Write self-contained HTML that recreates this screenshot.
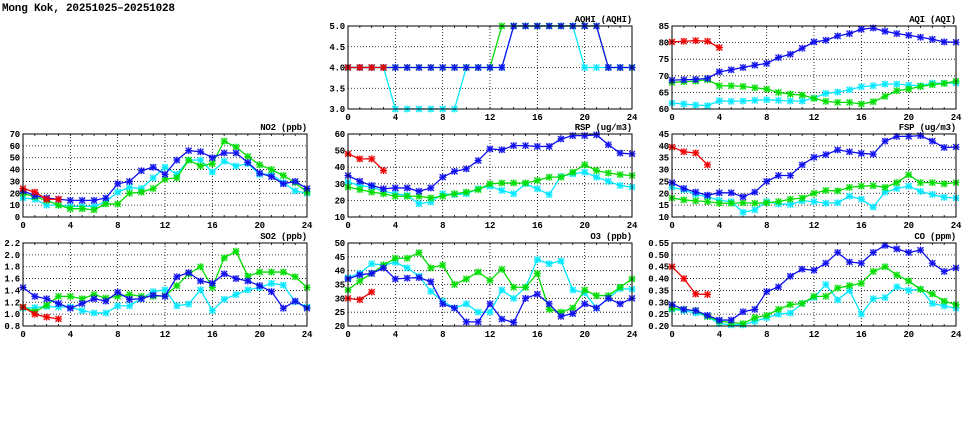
<!DOCTYPE html>
<html><head><meta charset="utf-8"><style>
body{margin:0;background:#fff;width:975px;height:447px;overflow:hidden}
svg{display:block}
text{font-family:"Liberation Mono","DejaVu Sans Mono",monospace;font-weight:bold;font-size:9px;fill:#000;letter-spacing:-0.2px}
</style></head><body>
<svg id="chart" width="975" height="447" viewBox="0 0 975 447">
<text x="2" y="11" style="font-size:11px">Mong Kok, 20251025–20251028</text>
</svg>
<script>
const hours = [0,1,2,3,4,5,6,7,8,9,10,11,12,13,14,15,16,17,18,19,20,21,22,23,24];
const xTicks = [0,4,8,12,16,20,24];

const aqhiRed=[4,4,4,4];
const aqhiCyan=[4,4,4,4,3,3,3,3,3,3,4,4,4,4,5,5,5,5,5,5,4,4,4,4,4];
const aqhiGreen=[4,4,4,4,4,4,4,4,4,4,4,4,4,5,5,5,5,5,5,5,5,5,4,4,4];
const aqhiBlue=[4,4,4,4,4,4,4,4,4,4,4,4,4,4,5,5,5,5,5,5,5,5,4,4,4];
const aqhiTicks=[3.0,3.5,4.0,4.5,5.0];

const aqiRed=[80.2,80.4,80.6,80.4,78.5];
const aqiBlue=[68.7,68.8,68.9,69.2,71.2,71.8,72.5,73.2,73.7,75.5,76.5,78.3,80.2,80.7,82,82.7,84,84.4,83.4,82.7,82.2,81.6,81,80.2,80.1];
const aqiGreen=[68,68.2,68.4,68.8,67,67,66.8,66.4,66,65,64.5,64.2,63.2,62.3,62,62,61.5,62.2,63.8,65.5,66,66.8,67.3,67.7,68.4];
const aqiCyan=[61.8,61.5,61.2,61,62.5,62.3,62.4,62.6,62.8,62.6,62.4,62.4,63.3,64.7,65.1,65.8,66.7,67,67.5,67.5,67.2,67,67.8,67.8,67.8];
const aqiTicks=[60,65,70,75,80,85];

const no2Red=[24,21,15,15];
const no2Blue=[22,18,16,15,14,14,14,16,28,30,39,42,36,48,56,55,50,54,54,46,37,34,28,30,24];
const no2Green=[20,17,14,10,7,7,6,11,11,20,21,24,32,33,48,43,45,64,59,51,44,40,35,29,21];
const no2Cyan=[16,15,10,10,9,9,9,13,21,25,24,33,42,36,48,48,38,47,43,45,36,36,29,22,20];
const no2Ticks=[0,10,20,30,40,50,60,70];

const rspRed=[48,45,45,38];
const rspBlue=[35,31.5,29,27,27.5,27.5,25.5,27.5,34,37.5,39,44,51,50.5,53,53,52.5,52.5,57,59,59,59.5,53.5,48.5,48];
const rspGreen=[28,26.5,25,24,22.5,22.5,22.5,21.5,22.5,24,25,26.5,30,30.5,30.5,30.5,32,34,34,37,41.5,38,36.5,35.5,35];
const rspCyan=[31,29,28,25.5,24,23,18,19,24,23.5,24,27,28.5,26,24,30,27,23.5,34.5,36,37,34,31.5,29,28];
const rspTicks=[10,20,30,40,50,60];

const fspRed=[39.5,37.5,37,32];
const fspBlue=[24.5,22,20.5,19.2,20.2,20.2,18.5,20.5,25,27.5,27.5,32,35.2,36.3,38.3,37.5,36.8,36.5,42,44,44,44.3,42,39.3,39.5];
const fspGreen=[18,17.2,16.8,16.5,15.8,15.8,16,15.8,16,16.5,17.5,18,20,21.2,21,22.5,23,23.2,22.5,24.5,27.8,24.5,24.5,24,24.5];
const fspCyan=[22.5,21.5,19.5,18.5,17,16.5,12,13,16.5,15.5,15.3,16.8,16.5,15.8,16,18.8,17.5,14.2,20.5,22,23,20.8,19.5,18.3,18];
const fspTicks=[10,15,20,25,30,35,40,45];

const so2Red=[1.12,1.0,0.95,0.92];
const so2Blue=[1.45,1.3,1.26,1.18,1.1,1.18,1.26,1.22,1.37,1.25,1.26,1.32,1.3,1.63,1.7,1.56,1.52,1.68,1.6,1.56,1.48,1.38,1.1,1.22,1.1];
const so2Green=[1.12,1.04,1.15,1.3,1.3,1.26,1.33,1.27,1.3,1.33,1.3,1.3,1.31,1.48,1.68,1.8,1.45,1.95,2.06,1.64,1.71,1.71,1.71,1.63,1.45];
const so2Cyan=[1.1,1.11,1.13,1.12,1.12,1.06,1.02,1.02,1.14,1.14,1.26,1.38,1.41,1.14,1.17,1.41,1.06,1.25,1.33,1.41,1.45,1.52,1.49,1.21,1.12];
const so2Ticks=[0.8,1.0,1.2,1.4,1.6,1.8,2.0,2.2];

const o3Red=[30,29.5,32.3];
const o3Blue=[37,38.5,39,41,37,37.3,37.5,36,28,26.5,21.5,21.5,28,22.5,21.3,30,31.5,28,23.5,24.5,28,26.5,30,28,30];
const o3Green=[33,36.3,39,42,44.5,44.5,46.5,41,42,35,37,39.5,36.5,40.5,34,34,39,26,25,26.5,33,31,31,34,37];
const o3Cyan=[37.5,39,42.5,42,43,41,38,32.5,29,26.5,28,25,25,33,30,34,44,42.5,43.5,33,32,26.5,30,33.5,33.3];
const o3Ticks=[20,25,30,35,40,45,50];

const coRed=[0.45,0.40,0.335,0.333];
const coBlue=[0.29,0.27,0.265,0.245,0.225,0.225,0.26,0.27,0.345,0.365,0.41,0.44,0.435,0.465,0.51,0.47,0.465,0.51,0.54,0.525,0.51,0.52,0.465,0.43,0.445];
const coGreen=[0.275,0.27,0.265,0.24,0.22,0.215,0.21,0.235,0.245,0.27,0.29,0.295,0.325,0.325,0.36,0.37,0.38,0.43,0.45,0.415,0.39,0.355,0.335,0.305,0.29];
const coCyan=[0.27,0.265,0.255,0.24,0.21,0.205,0.205,0.22,0.235,0.25,0.255,0.295,0.32,0.375,0.31,0.35,0.25,0.315,0.32,0.365,0.35,0.355,0.295,0.285,0.275];
const coTicks=[0.20,0.25,0.30,0.35,0.40,0.45,0.50,0.55];

const NS="http://www.w3.org/2000/svg";
const svg=document.getElementById('chart');
const COLORS={cyan:'#00e8ff',green:'#00dd00',blue:'#1010ee',red:'#ee0000'};
function mk(tag,attrs,parent){const e=document.createElementNS(NS,tag);for(const k in attrs)e.setAttribute(k,attrs[k]);(parent||svg).appendChild(e);return e;}

function panel(name,title,px,py,ticks,dec,series){
  const W=284,H=83;
  const ymin=ticks[0],ymax=ticks[ticks.length-1];
  const xs=h=>px+h/24*W;
  const ys=v=>py+H-(v-ymin)/(ymax-ymin)*H;
  const g=mk('g',{});
  
  
  xTicks.forEach(t=>{
    if(t>0&&t<24){const l=mk('line',{x1:xs(t),x2:xs(t),y1:py,y2:py+H,stroke:'#000','stroke-width':0.8,'stroke-dasharray':'1,2'},g);
      }
    const tx=mk('text',{x:xs(t),y:py+H+11,'text-anchor':'middle'},g);tx.textContent=t;
    
  });
  for(let h=0;h<=24;h++){mk('line',{x1:xs(h),x2:xs(h),y1:py+H,y2:py+H-2,stroke:'#000','stroke-width':0.8},g);mk('line',{x1:xs(h),x2:xs(h),y1:py,y2:py+2,stroke:'#000','stroke-width':0.8},g);}
  ticks.forEach(t=>{
    if(t>ymin&&t<ymax){const l=mk('line',{x1:px,x2:px+W,y1:ys(t),y2:ys(t),stroke:'#000','stroke-width':0.8,'stroke-dasharray':'1,2'},g);
      }
    const tx=mk('text',{x:px-3,y:ys(t)+3,'text-anchor':'end'},g);tx.textContent=t.toFixed(dec);
    
  });
  const tt=mk('text',{x:px+W,y:py-4,'text-anchor':'end'},g);tt.textContent=title;
  
  const clip='clip-'+name;
  const cp=mk('clipPath',{id:clip},g);mk('rect',{x:px-4,y:py-4,width:W+8,height:H+8},cp);
  series.forEach(([col,vals])=>{
    const c=COLORS[col];
    const pts=vals.map((v,i)=>xs(hours[i])+','+ys(v)).join(' ');
    const pl=mk('polyline',{points:pts,fill:'none',stroke:c,'stroke-width':1.3,'clip-path':'url(#'+clip+')'},g);
    
    
    vals.forEach((v,i)=>{
      const x=xs(hours[i]),y=ys(v);
      const m=mk('g',{},g);
      
      
      mk('rect',{x:x-3,y:y-3,width:6,height:6,fill:c,opacity:0.35},m);
      mk('path',{d:`M${x-3},${y-3}L${x+3},${y+3}M${x-3},${y+3}L${x+3},${y-3}M${x},${y-3.5}V${y+3.5}M${x-3.5},${y}H${x+3.5}`,stroke:c,'stroke-width':1.1},m);
    });
  });
  const fr=mk('rect',{x:px,y:py,width:W,height:H,fill:'none',stroke:'#000','stroke-width':1},g);
  
}
const C=[23,348,672], R=[26,134,243];
panel('aqhi','AQHI (AQHI)',C[1],R[0],aqhiTicks,1,[['cyan',aqhiCyan],['green',aqhiGreen],['blue',aqhiBlue],['red',aqhiRed]]);
panel('aqi','AQI (AQI)',C[2],R[0],aqiTicks,0,[['cyan',aqiCyan],['green',aqiGreen],['blue',aqiBlue],['red',aqiRed]]);
panel('no2','NO2 (ppb)',C[0],R[1],no2Ticks,0,[['cyan',no2Cyan],['green',no2Green],['blue',no2Blue],['red',no2Red]]);
panel('rsp','RSP (ug/m3)',C[1],R[1],rspTicks,0,[['cyan',rspCyan],['green',rspGreen],['blue',rspBlue],['red',rspRed]]);
panel('fsp','FSP (ug/m3)',C[2],R[1],fspTicks,0,[['cyan',fspCyan],['green',fspGreen],['blue',fspBlue],['red',fspRed]]);
panel('so2','SO2 (ppb)',C[0],R[2],so2Ticks,1,[['cyan',so2Cyan],['green',so2Green],['blue',so2Blue],['red',so2Red]]);
panel('o3','O3 (ppb)',C[1],R[2],o3Ticks,0,[['cyan',o3Cyan],['green',o3Green],['blue',o3Blue],['red',o3Red]]);
panel('co','CO (ppm)',C[2],R[2],coTicks,2,[['cyan',coCyan],['green',coGreen],['blue',coBlue],['red',coRed]]);
</script>
</body></html>
